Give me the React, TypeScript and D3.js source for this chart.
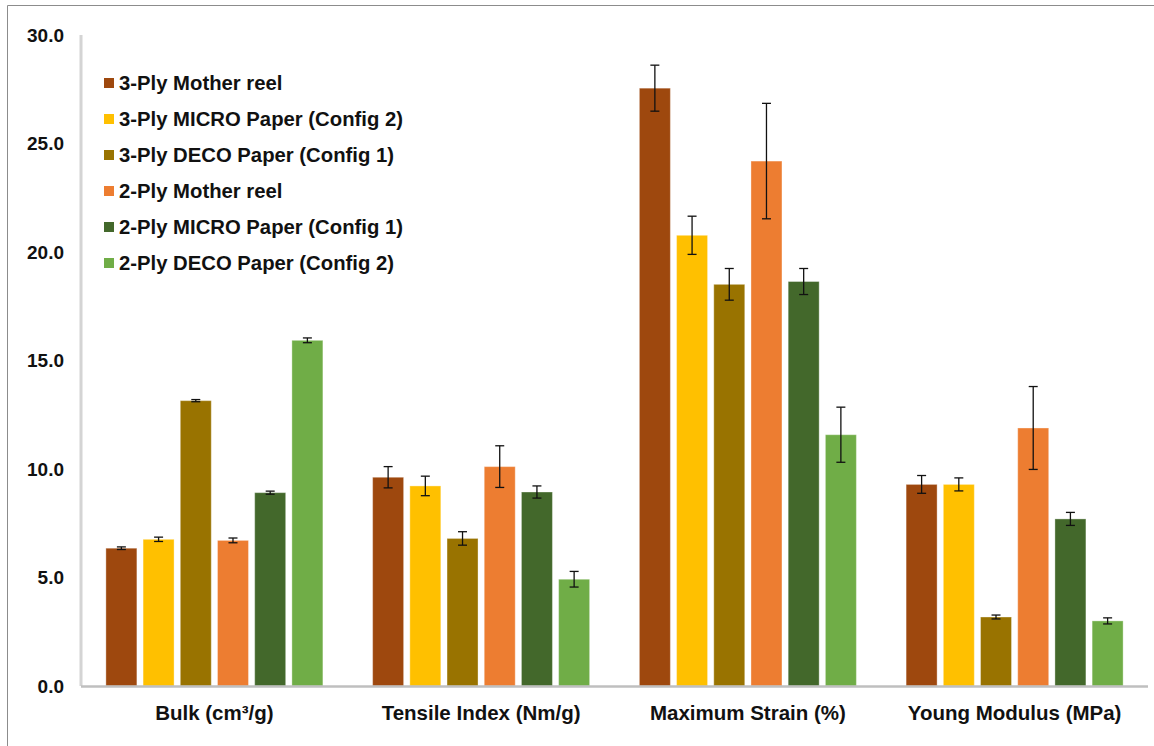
import React from "react";
import * as d3 from "d3";

// Property groups along the x axis
const categories = [
  "Bulk (cm³/g)",
  "Tensile Index (Nm/g)",
  "Maximum Strain (%)",
  "Young Modulus (MPa)",
];

// Series names (legend order)
const seriesNames = [
  "3-Ply Mother reel",
  "3-Ply MICRO Paper (Config 2)",
  "3-Ply DECO Paper (Config 1)",
  "2-Ply Mother reel",
  "2-Ply MICRO Paper (Config 1)",
  "2-Ply DECO Paper (Config 2)",
];

const seriesColors = ["#9E480E", "#FFC000", "#997300", "#ED7D31", "#43682B", "#70AD47"];

// Mean values per series, one per category
const motherReel3 = [6.35, 9.62, 27.55, 9.29];
const microPaper3 = [6.76, 9.22, 20.77, 9.29];
const decoPaper3 = [13.15, 6.8, 18.51, 3.18];
const motherReel2 = [6.71, 10.11, 24.19, 11.89];
const microPaper2 = [8.91, 8.94, 18.64, 7.7];
const decoPaper2 = [15.93, 4.92, 11.58, 3.0];

// Standard deviations (error bars)
const motherReel3Err = [0.06, 0.49, 1.06, 0.41];
const microPaper3Err = [0.1, 0.45, 0.88, 0.3];
const decoPaper3Err = [0.05, 0.31, 0.73, 0.09];
const motherReel2Err = [0.11, 0.96, 2.66, 1.91];
const microPaper2Err = [0.07, 0.28, 0.6, 0.3];
const decoPaper2Err = [0.11, 0.36, 1.27, 0.14];

const yTicks = [0, 5, 10, 15, 20, 25, 30];

const values = [motherReel3, microPaper3, decoPaper3, motherReel2, microPaper2, decoPaper2];
const errors = [motherReel3Err, microPaper3Err, decoPaper3Err, motherReel2Err, microPaper2Err, decoPaper2Err];

const W = 1154;
const H = 746;
const plotLeft = 81;
const plotRight = 1148;
const plotTop = 35;
const plotBottom = 686;

const FONT = "'Liberation Sans', Arial, sans-serif";

export default function App() {
  const x0 = d3
    .scaleBand<string>()
    .domain(categories)
    .range([plotLeft, plotRight])
    .paddingInner(0.1865)
    .paddingOuter(0.0933);

  const x1 = d3
    .scaleBand<string>()
    .domain(seriesNames)
    .range([0, x0.bandwidth()])
    .paddingInner(0.167)
    .paddingOuter(0);

  const y = d3.scaleLinear().domain([0, 30]).range([plotBottom, plotTop]);
  const fmt = d3.format(".1f");
  const capHalf = 4.5;

  return (
    <svg
      width={W}
      height={H}
      viewBox={`0 0 ${W} ${H}`}
      style={{ position: "absolute", left: 0, top: 0, background: "#fff" }}
    >
      <rect x={0} y={0} width={W} height={H} fill="#fff" />
      {/* outer frame */}
      <line x1={7.5} y1={5.5} x2={W} y2={5.5} stroke="#8c8c8c" strokeWidth={1} />
      <line x1={7.5} y1={5.5} x2={7.5} y2={H} stroke="#8c8c8c" strokeWidth={1} />

      {/* y axis line */}
      <line x1={plotLeft} y1={plotTop} x2={plotLeft} y2={plotBottom} stroke="#d4d4d4" strokeWidth={3} />

      {/* y tick labels */}
      {yTicks.map((t) => (
        <text
          key={t}
          x={64}
          y={y(t)}
          textAnchor="end"
          dominantBaseline="central"
          fontFamily={FONT}
          fontWeight="bold"
          fontSize={19}
          fill="#111"
        >
          {fmt(t)}
        </text>
      ))}

      {/* bars */}
      {categories.map((cat, ci) => (
        <g key={cat} transform={`translate(${x0(cat)},0)`}>
          {seriesNames.map((s, si) => {
            const v = values[si][ci];
            const bx = x1(s) as number;
            return (
              <rect
                key={s}
                x={bx}
                y={y(v)}
                width={x1.bandwidth()}
                height={plotBottom - y(v)}
                fill={seriesColors[si]}
                stroke="#ffffff"
                strokeOpacity={0.35}
                strokeWidth={1}
              />
            );
          })}
        </g>
      ))}

      {/* x axis line */}
      <line x1={plotLeft} y1={plotBottom + 0.5} x2={plotRight} y2={plotBottom + 0.5} stroke="#bfbfbf" strokeWidth={2.5} />

      {/* error bars */}
      {categories.map((cat, ci) => (
        <g key={cat} transform={`translate(${x0(cat)},0)`}>
          {seriesNames.map((s, si) => {
            const v = values[si][ci];
            const e = errors[si][ci];
            const cx = (x1(s) as number) + x1.bandwidth() / 2;
            const yHi = y(v + e);
            const yLo = y(v - e);
            return (
              <g key={s} stroke="#111" strokeWidth={1.3} fill="none">
                <line x1={cx} x2={cx} y1={yHi} y2={yLo} />
                <line x1={cx - capHalf} x2={cx + capHalf} y1={yHi} y2={yHi} />
                <line x1={cx - capHalf} x2={cx + capHalf} y1={yLo} y2={yLo} />
              </g>
            );
          })}
        </g>
      ))}

      {/* category labels */}
      {categories.map((cat) => (
        <text
          key={cat}
          x={(x0(cat) as number) + x0.bandwidth() / 2}
          y={712}
          textAnchor="middle"
          dominantBaseline="central"
          fontFamily={FONT}
          fontWeight="bold"
          fontSize={20.5}
          fill="#111"
        >
          {cat}
        </text>
      ))}

      {/* legend */}
      {seriesNames.map((s, i) => {
        const ly = 83 + i * 36;
        return (
          <g key={s}>
            <rect x={104} y={ly - 5} width={10} height={10} fill={seriesColors[i]} />
            <text
              x={119}
              y={ly}
              dominantBaseline="central"
              fontFamily={FONT}
              fontWeight="bold"
              fontSize={20.3}
              fill="#111"
            >
              {s}
            </text>
          </g>
        );
      })}
    </svg>
  );
}
